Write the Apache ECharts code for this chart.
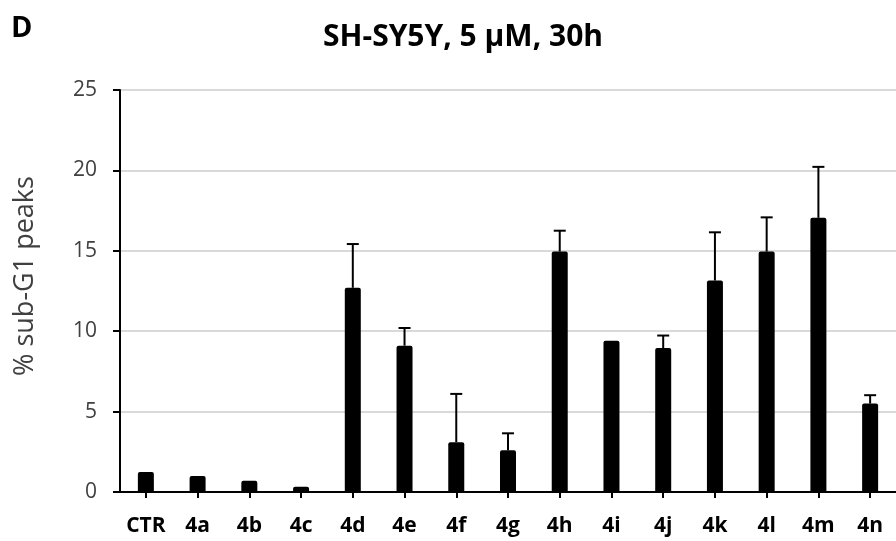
<!DOCTYPE html>
<html><head><meta charset="utf-8">
<script src="https://cdn.jsdelivr.net/npm/echarts@6/dist/echarts.min.js"></script>
<style>html,body{margin:0;padding:0;background:#fff}#c{width:896px;height:541px}</style>
</head><body><div id="c"></div>
<script>
const categories = ['CTR','4a','4b','4c','4d','4e','4f','4g','4h','4i','4j','4k','4l','4m','4n'];
const values = [1.25, 1.0, 0.7, 0.33, 12.7, 9.1, 3.1, 2.6, 14.95, 9.4, 8.95, 13.15, 14.95, 17.05, 5.5];
const errors = [0, 0, 0, 0, 2.72, 1.1, 3.0, 1.05, 1.3, 0, 0.78, 3.0, 2.13, 3.17, 0.52];
const yTicks = [0, 5, 10, 15, 20, 25];
const yAxisTitle = '% sub-G1 peaks';

const FONT = '"Open Sans", sans-serif';
const chart = echarts.init(document.getElementById('c'), null, {renderer: 'canvas'});
chart.setOption({
  animation: false,
  backgroundColor: '#fff',
  title: [
    {text: 'SH-SY5Y, 5 μM, 30h', left: 458, top: 17, textAlign: 'center',
     textStyle: {fontFamily: FONT, fontWeight: 'bold', fontSize: 30, color: '#000'}},
    {text: 'D', left: 6, top: 9, textStyle: {fontFamily: FONT, fontWeight: 'bold', fontSize: 29, color: '#000'}}
  ],
  graphic: [
    {type: 'text', x: 25, y: 276, rotation: Math.PI / 2,
     style: {text: yAxisTitle, fontFamily: FONT, fontSize: 27, fill: '#404040', align: 'center', verticalAlign: 'middle'}}
  ],
  grid: {left: 120, top: 90, width: 783, height: 402},
  xAxis: {
    type: 'category', data: categories, boundaryGap: true,
    axisLine: {lineStyle: {color: '#000', width: 2}},
    axisTick: {show: true, alignWithLabel: true, length: 6, lineStyle: {color: '#000', width: 2}},
    axisLabel: {margin: 24, fontFamily: FONT, fontWeight: 'bold', fontSize: 21, color: '#000', interval: 0},
    splitLine: {show: false}
  },
  yAxis: {
    type: 'value', min: 0, max: 25, interval: 5,
    axisLine: {show: true, lineStyle: {color: '#000', width: 2}},
    axisTick: {show: true, length: 7, lineStyle: {color: '#000', width: 2}},
    axisLabel: {margin: 23, fontFamily: FONT, fontSize: 21, color: '#404040',
      formatter: v => yTicks.includes(v) ? String(v) : ''},
    splitLine: {show: true, lineStyle: {color: '#d9d9d9', width: 2}}
  },
  series: [
    {type: 'bar', data: values, barWidth: 16, itemStyle: {color: '#000', borderRadius: [2,2,0,0]}, z: 2},
    {type: 'custom', z: 3,
     data: values.map((v, i) => [i, v, errors[i]]),
     renderItem: function (params, api) {
       const i = api.value(0), v = api.value(1), e = api.value(2);
       if (!e) return {type: 'group', children: []};
       const p0 = api.coord([i, v]);
       const p1 = api.coord([i, v + e]);
       const half = 6;
       const st = {stroke: '#000', lineWidth: 2};
       return {type: 'group', children: [
         {type: 'line', shape: {x1: p0[0], y1: p0[1], x2: p1[0], y2: p1[1]}, style: st},
         {type: 'line', shape: {x1: p1[0] - half, y1: p1[1], x2: p1[0] + half, y2: p1[1]}, style: st}
       ]};
     }
    }
  ]
});
</script></body></html>
